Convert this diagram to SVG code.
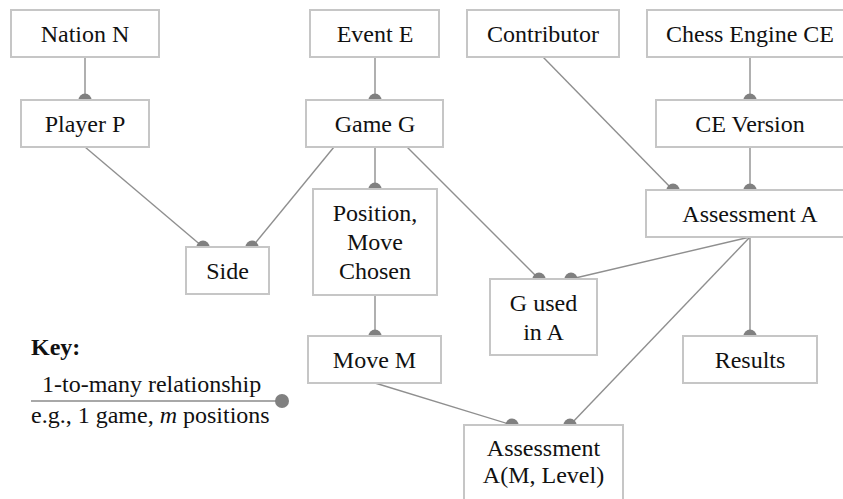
<svg xmlns="http://www.w3.org/2000/svg" width="843" height="499" viewBox="0 0 843 499">
<rect width="843" height="499" fill="#fff"/>
<g id="connectors">
<g stroke="#8f8f8f" stroke-width="1.4" fill="none">
<line x1="85" y1="57" x2="85" y2="100"/>
<line x1="375" y1="57" x2="375" y2="100"/>
<line x1="750" y1="57" x2="750" y2="100"/>
<line x1="543" y1="57" x2="673" y2="190"/>
<line x1="750" y1="147" x2="750" y2="190"/>
<line x1="85" y1="147" x2="203" y2="247"/>
<line x1="334" y1="147" x2="252" y2="247"/>
<line x1="375" y1="147" x2="375" y2="189"/>
<line x1="407" y1="147" x2="539" y2="279"/>
<line x1="750" y1="237" x2="571" y2="279"/>
<line x1="750" y1="237" x2="750" y2="336"/>
<line x1="750" y1="237" x2="570" y2="425"/>
<line x1="375" y1="295" x2="375" y2="336"/>
<line x1="375" y1="383" x2="512" y2="425"/>
</g>
<g fill="#808080">
<path d="M78.5,100 A6.5,6.5 0 0 1 91.5,100 Z"/>
<path d="M368.5,100 A6.5,6.5 0 0 1 381.5,100 Z"/>
<path d="M743.5,100 A6.5,6.5 0 0 1 756.5,100 Z"/>
<path d="M666.5,190 A6.5,6.5 0 0 1 679.5,190 Z"/>
<path d="M743.5,190 A6.5,6.5 0 0 1 756.5,190 Z"/>
<path d="M196.5,247 A6.5,6.5 0 0 1 209.5,247 Z"/>
<path d="M245.5,247 A6.5,6.5 0 0 1 258.5,247 Z"/>
<path d="M368.5,189 A6.5,6.5 0 0 1 381.5,189 Z"/>
<path d="M532.5,279 A6.5,6.5 0 0 1 545.5,279 Z"/>
<path d="M564.5,279 A6.5,6.5 0 0 1 577.5,279 Z"/>
<path d="M743.5,336 A6.5,6.5 0 0 1 756.5,336 Z"/>
<path d="M368.5,336 A6.5,6.5 0 0 1 381.5,336 Z"/>
<path d="M505.5,425 A6.5,6.5 0 0 1 518.5,425 Z"/>
<path d="M563.5,425 A6.5,6.5 0 0 1 576.5,425 Z"/>
</g>
</g>
<g fill="#fff" stroke="#c6c6c6" stroke-width="2">
<rect id="nation-box" x="11" y="10" width="148" height="47"/>
<rect id="event-box" x="310" y="10" width="129" height="47"/>
<rect id="contributor-box" x="467" y="10" width="152" height="47"/>
<rect id="chess-engine-box" x="647" y="10" width="206" height="47"/>
<rect id="player-box" x="21" y="100" width="128" height="47"/>
<rect id="game-box" x="306" y="100" width="137" height="47"/>
<rect id="ce-version-box" x="656" y="100" width="188" height="47"/>
<rect id="assessment-a-box" x="646" y="190" width="208" height="47"/>
<rect id="side-box" x="186" y="247" width="83" height="47"/>
<rect id="position-box" x="313" y="189" width="124" height="106"/>
<rect id="g-used-box" x="490" y="279" width="107" height="76"/>
<rect id="move-box" x="308" y="336" width="133" height="47"/>
<rect id="results-box" x="683" y="336" width="134" height="47"/>
<rect id="assessment-ml-box" x="464" y="425" width="159" height="110"/>
</g>
<g id="labels" fill="#111" text-anchor="middle">
<text font-family="Liberation Serif, Times New Roman, Tinos, Times, serif" font-size="24" x="85" y="42">Nation N</text>
<text font-family="Liberation Serif, Times New Roman, Tinos, Times, serif" font-size="24" x="375" y="42">Event E</text>
<text font-family="Liberation Serif, Times New Roman, Tinos, Times, serif" font-size="24" x="543" y="42">Contributor</text>
<text font-family="Liberation Serif, Times New Roman, Tinos, Times, serif" font-size="24" x="750" y="42">Chess Engine CE</text>
<text font-family="Liberation Serif, Times New Roman, Tinos, Times, serif" font-size="24" x="85" y="132">Player P</text>
<text font-family="Liberation Serif, Times New Roman, Tinos, Times, serif" font-size="24" x="375" y="132">Game G</text>
<text font-family="Liberation Serif, Times New Roman, Tinos, Times, serif" font-size="24" x="750" y="132">CE Version</text>
<text font-family="Liberation Serif, Times New Roman, Tinos, Times, serif" font-size="24" x="750" y="222">Assessment A</text>
<text font-family="Liberation Serif, Times New Roman, Tinos, Times, serif" font-size="24" x="227.5" y="279">Side</text>
<text font-family="Liberation Serif, Times New Roman, Tinos, Times, serif" font-size="24" x="375" y="221">Position,</text>
<text font-family="Liberation Serif, Times New Roman, Tinos, Times, serif" font-size="24" x="375" y="250">Move</text>
<text font-family="Liberation Serif, Times New Roman, Tinos, Times, serif" font-size="24" x="375" y="279">Chosen</text>
<text font-family="Liberation Serif, Times New Roman, Tinos, Times, serif" font-size="24" x="543.5" y="311">G used</text>
<text font-family="Liberation Serif, Times New Roman, Tinos, Times, serif" font-size="24" x="543.5" y="340">in A</text>
<text font-family="Liberation Serif, Times New Roman, Tinos, Times, serif" font-size="24" x="374.5" y="368">Move M</text>
<text font-family="Liberation Serif, Times New Roman, Tinos, Times, serif" font-size="24" x="750" y="368">Results</text>
<text font-family="Liberation Serif, Times New Roman, Tinos, Times, serif" font-size="24" x="543.5" y="456">Assessment</text>
<text font-family="Liberation Serif, Times New Roman, Tinos, Times, serif" font-size="24" x="543.5" y="483">A(M, Level)</text>
</g>
<g id="key" fill="#111">
<text font-family="Liberation Serif, Times New Roman, Tinos, Times, serif" font-size="24" font-weight="bold" x="31" y="355">Key:</text>
<text font-family="Liberation Serif, Times New Roman, Tinos, Times, serif" font-size="24" x="42" y="392">1-to-many relationship</text>
<line x1="31" y1="401" x2="282" y2="401" stroke="#a8a8a8" stroke-width="2"/>
<circle cx="282" cy="401" r="7" fill="#808080"/>
<text font-family="Liberation Serif, Times New Roman, Tinos, Times, serif" font-size="24" x="31" y="423">e.g., 1 game, <tspan font-style="italic">m</tspan> positions</text>
</g>
</svg>
